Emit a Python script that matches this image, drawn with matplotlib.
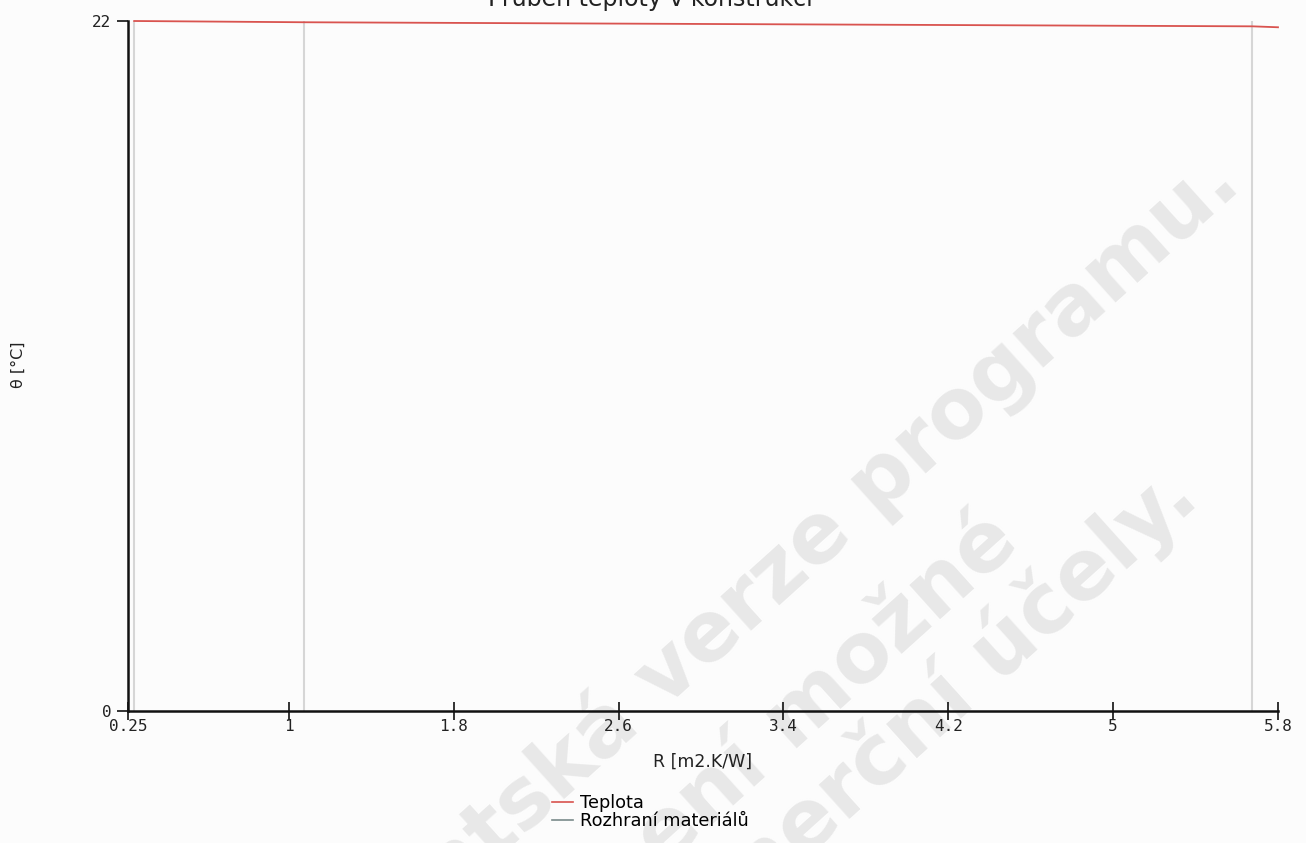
import matplotlib
matplotlib.use("Agg")
import matplotlib.pyplot as plt
from matplotlib.lines import Line2D

# Temperature profile through the construction
r_values = [0.25, 1.074, 5.676, 5.8]          # thermal resistance R [m2.K/W]
temperature = [22.0, 21.96, 21.83, 21.80]      # theta [°C]

# Material interfaces
interfaces = [0.25, 1.074, 5.676]

x_limits = (0.22, 5.8)
y_limits = (0, 22)
x_ticks = [0.22, 1.0, 1.8, 2.6, 3.4, 4.2, 5.0, 5.8]
x_tick_labels = ["0.25", "1", "1.8", "2.6", "3.4", "4.2", "5", "5.8"]
y_ticks = [0, 22]
y_tick_labels = ["0", "22"]

title = "Průběh teploty v konstrukci"
x_label = "R [m2.K/W]"
y_label = "θ [°C]"
legend_labels = ["Teplota", "Rozhraní materiálů"]

# Licence notice printed diagonally behind the chart (text, right end in px)
watermark_lines = [
    ("Studentská verze programu.", 1244, 188),
    ("Použití není možné", 1022, 546),
    ("pro komerční účely.", 1202, 502),
]

W, H = 1306, 843
fig = plt.figure(figsize=(W / 100, H / 100), dpi=100)
fig.patch.set_facecolor("#fcfcfc")

for text, px, py in watermark_lines:
    fig.text(px / W, 1 - py / H, text, rotation=42, rotation_mode="anchor",
             ha="right", va="baseline", fontsize=60, fontweight="bold",
             family="DejaVu Sans", color="#e8e8e8", zorder=0)

ax = fig.add_axes([128 / W, 1 - 711 / H, (1278 - 128) / W, (711 - 21) / H])
ax.set_facecolor("none")
ax.set_zorder(3)

for xi in interfaces:
    ax.plot([xi, xi], list(y_limits), color="#d6d6d6", lw=1.5, zorder=1)
ax.plot(r_values, temperature, color="#d9534f", lw=1.3, zorder=2, clip_on=False)

ax.set_xlim(*x_limits)
ax.set_ylim(*y_limits)
ax.set_xticks(x_ticks)
ax.set_xticklabels(x_tick_labels, family="DejaVu Sans Mono", fontsize=11.5, color="#222222")
ax.set_yticks(y_ticks)
ax.set_yticklabels(y_tick_labels, family="DejaVu Sans Mono", fontsize=11.5, color="#222222")

for side in ("top", "right"):
    ax.spines[side].set_visible(False)
for side in ("left", "bottom"):
    ax.spines[side].set_linewidth(1.8)
    ax.spines[side].set_color("#111111")

ax.tick_params(axis="x", direction="inout", length=13, width=1.2, pad=-1, color="#111111")
ax.tick_params(axis="y", direction="out", length=8, width=1.2, pad=4, color="#111111")

ax.set_xlabel(x_label, fontsize=12.5, family="DejaVu Sans", color="#222222", labelpad=14)
fig.text(18 / W, 1 - 365 / H, y_label, rotation=90, ha="center", va="center",
         fontsize=11.5, family="DejaVu Sans", color="#222222", zorder=3)

# Title sits at the very top edge of the figure
fig.text(650 / W, 1 - 6 / H, title, ha="center", va="baseline",
         fontsize=17, family="DejaVu Sans", color="#222222", zorder=3)

handles = [Line2D([], [], color="#d9534f", lw=1.2),
           Line2D([], [], color="#7a8a8a", lw=1.2)]
leg = fig.legend(handles, legend_labels, loc="center left",
                 bbox_to_anchor=(552 / W, 1 - 812 / H), frameon=False,
                 handlelength=1.2, handletextpad=0.35,
                 labelspacing=0.0, borderpad=0, borderaxespad=0,
                 prop={"family": "DejaVu Sans", "size": 12.8})
leg.set_zorder(3)

fig.savefig("out.png", dpi=100, facecolor=fig.get_facecolor())
